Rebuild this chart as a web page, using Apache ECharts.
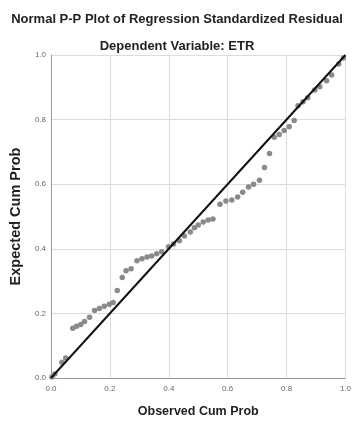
<!DOCTYPE html>
<html><head><meta charset="utf-8">
<script src="https://cdn.jsdelivr.net/npm/echarts@6/dist/echarts.min.js"></script>
<style>html,body{margin:0;padding:0;background:#fff}#c{width:354px;height:423px}</style>
</head><body><div id="c"></div>
<script>
const titleText = "Normal P-P Plot of Regression Standardized Residual";
const subtitleText = "Dependent Variable: ETR";
const xName = "Observed Cum Prob";
const yName = "Expected Cum Prob";
const observed = [0.003,0.013,0.037,0.050,0.074,0.087,0.101,0.114,0.131,0.148,0.164,0.181,0.198,0.211,0.225,0.242,0.255,0.272,0.292,0.309,0.326,0.342,0.359,0.376,0.399,0.416,0.436,0.453,0.473,0.487,0.500,0.517,0.534,0.550,0.574,0.594,0.614,0.634,0.651,0.671,0.688,0.708,0.725,0.742,0.758,0.775,0.792,0.809,0.826,0.839,0.856,0.872,0.896,0.913,0.936,0.953,0.977,0.993];
const expected = [0.003,0.012,0.049,0.062,0.154,0.160,0.166,0.175,0.188,0.209,0.215,0.222,0.228,0.234,0.271,0.311,0.332,0.338,0.363,0.369,0.375,0.378,0.385,0.391,0.406,0.415,0.425,0.440,0.452,0.465,0.474,0.483,0.489,0.492,0.538,0.548,0.551,0.560,0.575,0.591,0.600,0.612,0.652,0.695,0.745,0.754,0.766,0.778,0.797,0.843,0.855,0.868,0.892,0.902,0.920,0.938,0.972,0.991];
const refLine = [[0,0],[1,1]];

const chart = echarts.init(document.getElementById('c'));
const font = "'Liberation Sans', Arial, sans-serif";
chart.setOption({
  animation:false,
  title:[
    {text:titleText,left:'center',top:8,textStyle:{fontFamily:font,fontSize:13,fontWeight:'bold',color:'#222'}},
    {text:subtitleText,left:'center',top:35,textStyle:{fontFamily:font,fontSize:13,fontWeight:'bold',color:'#222'}}
  ],
  grid:{left:51,right:5,top:55,bottom:43},
  xAxis:{type:'value',min:0,max:1,interval:0.2,name:xName,nameLocation:'middle',nameGap:27,
    nameTextStyle:{fontFamily:font,fontSize:12.5,fontWeight:'bold',color:'#222'},
    axisLine:{show:true,lineStyle:{color:'#999',width:1}},axisTick:{show:false},
    axisLabel:{fontFamily:font,fontSize:8,color:'#666',margin:7,formatter:v=>v.toFixed(1)},
    splitLine:{show:true,lineStyle:{color:'#dcdcdc',width:1}}},
  yAxis:{type:'value',min:0,max:1,interval:0.2,name:yName,nameLocation:'middle',nameGap:27,
    nameTextStyle:{fontFamily:font,fontSize:14.5,fontWeight:'bold',color:'#222'},
    axisLine:{show:true,lineStyle:{color:'#999',width:1}},axisTick:{show:false},
    axisLabel:{fontFamily:font,fontSize:8,color:'#666',margin:5,formatter:v=>v.toFixed(1)},
    splitLine:{show:true,lineStyle:{color:'#dcdcdc',width:1}}},
  series:[
    {type:'scatter',data:observed.map((x,i)=>[x,expected[i]]),symbolSize:5.5,
      itemStyle:{color:'#8a8a8a',opacity:1},z:2},
    {type:'line',data:refLine,showSymbol:false,lineStyle:{color:'#111',width:2},z:3}
  ]
});
</script></body></html>
